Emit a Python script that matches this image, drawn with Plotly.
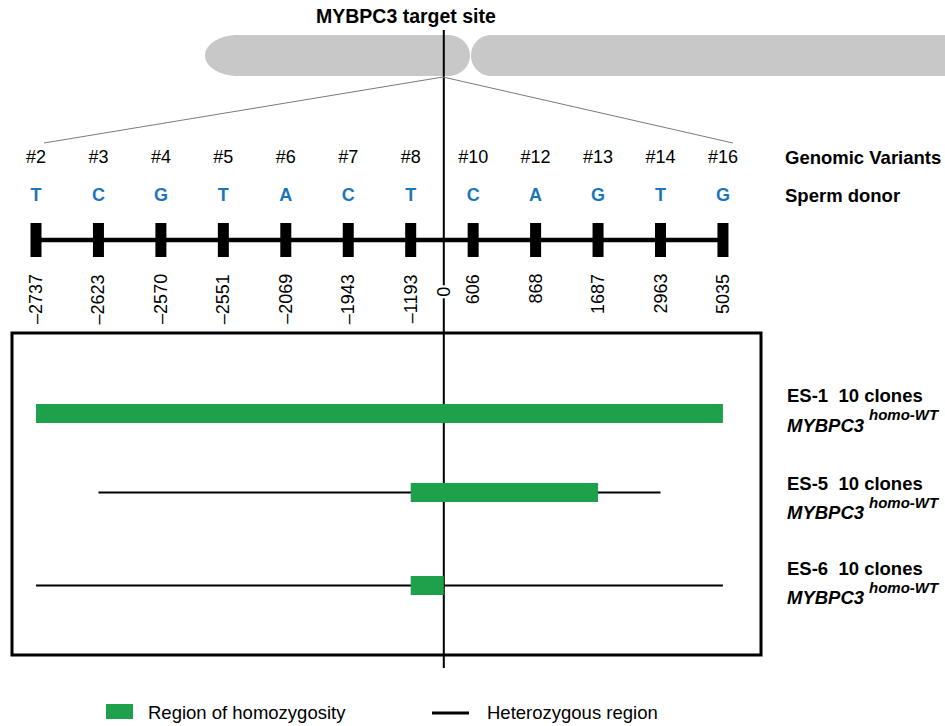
import plotly.graph_objects as go

# ---- data ----
variant_ids = ["#2", "#3", "#4", "#5", "#6", "#7", "#8", "#10", "#12", "#13", "#14", "#16"]
donor_bases = ["T", "C", "G", "T", "A", "C", "T", "C", "A", "G", "T", "G"]
offsets_bp = [-2737, -2623, -2570, -2551, -2069, -1943, -1193, 606, 868, 1687, 2963, 5035]

clone_names = ["ES-1", "ES-5", "ES-6"]
clone_counts = [10, 10, 10]
homo_from = ["#2", "#8", "#8"]
homo_to = ["#16", "#13", "target"]
het_from = [None, "#3", "#2"]
het_to = [None, "#14", "#16"]

# ---- layout constants (pixels for a 945 x 726 canvas) ----
W, H = 945, 726
X0_PX, STEP_PX = 36.0, 62.45           # pixel of first variant, spacing between variants
TARGET_SLOT = 6.53                      # cut site sits between #8 and #10
TRACK_Y = 240
ROW_Y = [413.5, 492.5, 585.5]
BAR_H = 19
FONT = "Liberation Sans, Arial, sans-serif"
GREEN = "#1da24b"
BLUE = "#1b75bb"

slot = {v: i for i, v in enumerate(variant_ids)}
slot["target"] = TARGET_SLOT


def px(x):
    return x / W


def py(y):
    return 1 - y / H


fig = go.Figure()

# target-site vertical line
fig.add_trace(go.Scatter(x=[TARGET_SLOT, TARGET_SLOT], y=[30, 668], mode="lines",
                         line=dict(color="black", width=2)))

# track backbone
fig.add_trace(go.Scatter(x=[0, len(variant_ids) - 1], y=[TRACK_Y, TRACK_Y], mode="lines",
                         line=dict(color="black", width=4.5)))

# variant blocks on the track
hw = 5.5 / STEP_PX
bx, by = [], []
for i in range(len(variant_ids)):
    bx += [i - hw, i + hw, i + hw, i - hw, i - hw, None]
    by += [TRACK_Y - 17, TRACK_Y - 17, TRACK_Y + 17, TRACK_Y + 17, TRACK_Y - 17, None]
fig.add_trace(go.Scatter(x=bx, y=by, mode="lines", fill="toself", fillcolor="black",
                         line=dict(color="black", width=0)))

# variant ids and donor bases
fig.add_trace(go.Scatter(x=list(range(len(variant_ids))), y=[158] * len(variant_ids),
                         mode="text", text=variant_ids,
                         textfont=dict(family=FONT, size=18, color="black")))
fig.add_trace(go.Scatter(x=list(range(len(donor_bases))), y=[196] * len(donor_bases),
                         mode="text", text=[f"<b>{b}</b>" for b in donor_bases],
                         textfont=dict(family=FONT, size=18, color=BLUE)))

# heterozygous spans
for k, name in enumerate(clone_names):
    if het_from[k] is None:
        continue
    fig.add_trace(go.Scatter(x=[slot[het_from[k]], slot[het_to[k]]], y=[ROW_Y[k], ROW_Y[k]],
                             mode="lines", line=dict(color="black", width=2)))

# homozygous spans, drawn as filled blocks on top of the lines
gx, gy = [], []
for k, name in enumerate(clone_names):
    s, e = slot[homo_from[k]], slot[homo_to[k]]
    y0, y1 = ROW_Y[k] - BAR_H / 2, ROW_Y[k] + BAR_H / 2
    gx += [s, e, e, s, s, None]
    gy += [y0, y0, y1, y1, y0, None]
fig.add_trace(go.Scatter(x=gx, y=gy, mode="lines", fill="toself", fillcolor=GREEN,
                         line=dict(color=GREEN, width=0)))

annotations = []

# bp offset labels
for i, off in enumerate(offsets_bp):
    annotations.append(dict(x=i, y=272, xref="x", yref="y", text=str(off).replace("-", "\u2013"),
                            textangle=-90, xanchor="center", yanchor="top", showarrow=False,
                            font=dict(family=FONT, size=18, color="black")))
annotations.append(dict(x=TARGET_SLOT, y=285, xref="x", yref="y", text="0", textangle=-90,
                        xanchor="center", yanchor="top", showarrow=False, bgcolor="white",
                        font=dict(family=FONT, size=18, color="black")))

# title and row headings
annotations.append(dict(x=px(406), y=py(16), xref="paper", yref="paper",
                        text="<b>MYBPC3 target site</b>", showarrow=False,
                        xanchor="center", yanchor="middle",
                        font=dict(family=FONT, size=19.5, color="black")))
annotations.append(dict(x=px(783), y=py(158), xref="paper", yref="paper",
                        text="<b>Genomic Variants</b>", showarrow=False,
                        xanchor="left", yanchor="middle",
                        font=dict(family=FONT, size=18.5, color="black")))
annotations.append(dict(x=px(783), y=py(195), xref="paper", yref="paper",
                        text="<b>Sperm donor</b>", showarrow=False,
                        xanchor="left", yanchor="middle",
                        font=dict(family=FONT, size=18.5, color="black")))

# clone labels
label_y = [396, 483, 568]
for k, name in enumerate(clone_names):
    ly = label_y[k]
    annotations.append(dict(x=px(785), y=py(ly), xref="paper", yref="paper",
                            text=f"<b>{name}\u00a0 {clone_counts[k]} clones</b>", showarrow=False,
                            xanchor="left", yanchor="middle",
                            font=dict(family=FONT, size=18.5, color="black")))
    annotations.append(dict(x=px(785), y=py(ly + 29), xref="paper", yref="paper",
                            text="<b><i>MYBPC3</i></b>", showarrow=False,
                            xanchor="left", yanchor="middle",
                            font=dict(family=FONT, size=18.5, color="black")))
    annotations.append(dict(x=px(867), y=py(ly + 19), xref="paper", yref="paper",
                            text="<b><i>homo-WT</i></b>", showarrow=False,
                            xanchor="left", yanchor="middle",
                            font=dict(family=FONT, size=15, color="black")))

# legend
annotations.append(dict(x=px(146), y=py(712), xref="paper", yref="paper",
                        text="Region of homozygosity", showarrow=False,
                        xanchor="left", yanchor="middle",
                        font=dict(family=FONT, size=18.5, color="black")))
annotations.append(dict(x=px(485), y=py(712), xref="paper", yref="paper",
                        text="Heterozygous region", showarrow=False,
                        xanchor="left", yanchor="middle",
                        font=dict(family=FONT, size=18.5, color="black")))


def capsule(x0, x1, y0, y1, rx0, rx1):
    """Bar with elliptical ends, returned as a paper-coordinate SVG path."""
    k = 0.5523
    ym = (y0 + y1) / 2
    ry = (y1 - y0) / 2

    def p(x, y):
        return f"{px(x):.5f},{py(y):.5f}"

    return (f"M {p(x0 + rx0, y0)} L {p(x1 - rx1, y0)} "
            f"C {p(x1 - rx1 + k * rx1, y0)} {p(x1, ym - k * ry)} {p(x1, ym)} "
            f"C {p(x1, ym + k * ry)} {p(x1 - rx1 + k * rx1, y1)} {p(x1 - rx1, y1)} "
            f"L {p(x0 + rx0, y1)} "
            f"C {p(x0 + rx0 - k * rx0, y1)} {p(x0, ym + k * ry)} {p(x0, ym)} "
            f"C {p(x0, ym - k * ry)} {p(x0 + rx0 - k * rx0, y0)} {p(x0 + rx0, y0)} Z")


shapes = [
    dict(type="path", xref="paper", yref="paper", layer="below",
         path=capsule(205, 470, 35, 76, 33, 22), fillcolor="#c8c8c8", line=dict(width=0)),
    dict(type="path", xref="paper", yref="paper", layer="below",
         path=capsule(471, 1000, 35, 76, 20, 20), fillcolor="#c8c8c8", line=dict(width=0)),
    # zoom-out funnel from chromosome to the variant track
    dict(type="line", xref="paper", yref="paper", x0=px(443), y0=py(77), x1=px(44), y1=py(143),
         line=dict(color="#7a7a7a", width=1)),
    dict(type="line", xref="paper", yref="paper", x0=px(443), y0=py(77), x1=px(733), y1=py(143),
         line=dict(color="#7a7a7a", width=1)),
    # clone panel frame
    dict(type="rect", xref="paper", yref="paper", x0=px(12), y0=py(333), x1=px(761), y1=py(655),
         line=dict(color="black", width=3), fillcolor="rgba(0,0,0,0)"),
    # legend marks
    dict(type="rect", xref="paper", yref="paper", x0=px(106), y0=py(704), x1=px(133), y1=py(719),
         line=dict(width=0), fillcolor=GREEN),
    dict(type="line", xref="paper", yref="paper", x0=px(432), y0=py(713), x1=px(469), y1=py(713),
         line=dict(color="black", width=3)),
]

fig.update_layout(
    width=W, height=H,
    margin=dict(l=0, r=0, t=0, b=0),
    paper_bgcolor="white", plot_bgcolor="white",
    showlegend=False, hovermode=False,
    xaxis=dict(range=[-X0_PX / STEP_PX, (W - X0_PX) / STEP_PX], visible=False, fixedrange=True),
    yaxis=dict(range=[H, 0], visible=False, fixedrange=True),
    annotations=annotations,
    shapes=shapes,
)

fig.write_html("out.html")
